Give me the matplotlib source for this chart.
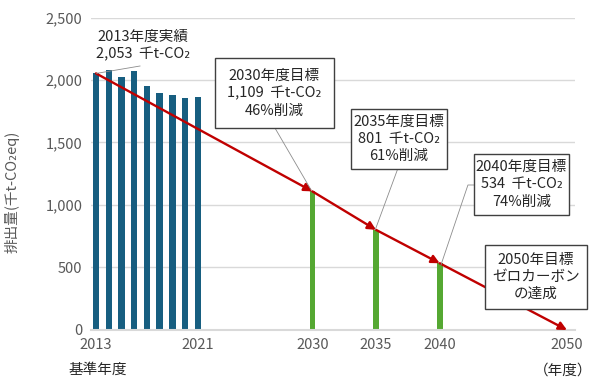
import matplotlib
matplotlib.use("Agg")
import matplotlib.pyplot as plt
from matplotlib.patches import Rectangle

plt.rcParams['font.family'] = ['Noto Sans CJK JP', 'DejaVu Sans']

# ---- data ----
actual_years = [2013, 2014, 2015, 2016, 2017, 2018, 2019, 2020, 2021]
actual_values = [2053, 2084, 2026, 2073, 1953, 1900, 1879, 1858, 1863]
target_years = [2030, 2035, 2040]
target_values = [1109, 801, 534]
path_years = [2013, 2030, 2035, 2040, 2050]
path_values = [2053, 1109, 801, 534, 0]
xtick_years = [2013, 2021, 2030, 2035, 2040, 2050]
ytick_values = [0, 500, 1000, 1500, 2000, 2500]

BLUE = '#175E80'
GREEN = '#55A832'
RED = '#C00000'
GRID = '#D9D9D9'
TXT = '#595959'
DARK = '#262626'

fig = plt.figure(figsize=(5.94, 3.89), dpi=100)
ax = fig.add_axes([0.153, 0.1517, 0.815, 0.8033])

ax.bar(actual_years, actual_values, width=0.5, color=BLUE, zorder=2)
ax.bar(target_years, target_values, width=0.45, color=GREEN, zorder=2)

for i in range(len(path_years) - 1):
    ax.annotate('', xy=(path_years[i + 1], path_values[i + 1]),
                xytext=(path_years[i], path_values[i]),
                arrowprops=dict(arrowstyle='-|>', color=RED, lw=1.7,
                                mutation_scale=12, shrinkA=0, shrinkB=0),
                zorder=3, annotation_clip=False)

ax.set_xlim(2012.6, 2050.63)
ax.set_ylim(0, 2500)
ax.set_xticks(xtick_years)
ax.set_xticklabels([str(y) for y in xtick_years])
ax.set_yticks(ytick_values)
ax.set_yticklabels([f'{v:,}' for v in ytick_values])
ax.tick_params(length=0, labelsize=10.5, colors=TXT, pad=6)
ax.grid(axis='y', color=GRID, lw=1, zorder=0)
for s in ['top', 'right', 'left']:
    ax.spines[s].set_visible(False)
ax.spines['bottom'].set_color(GRID)
ax.spines['bottom'].set_linewidth(1.5)

# ---- annotations ----
LEAD = dict(color='#8C8C8C', lw=0.6, zorder=4, clip_on=False)
FS = 10.5
LS = 1.3

# 2013
ax.text(2016.7, 2276, '2013年度実績\n2,053  千t-CO₂', ha='center', va='center',
        fontsize=FS, color=DARK, linespacing=LS)
ax.plot([2013.05, 2016.46], [2053, 2112], **LEAD)

boxes = [
    # (cx, cy, w, h, text)
    (2027.02, 1896, 9.35, 560, '2030年度目標\n1,109  千t-CO₂\n46%削減'),
    (2036.80, 1528, 7.54, 480, '2035年度目標\n801  千t-CO₂\n61%削減'),
    (2046.43, 1164, 7.46, 488, '2040年度目標\n534  千t-CO₂\n74%削減'),
    (2047.56, 424, 8.01, 512, '2050年目標\nゼロカーボン\nの達成'),
]
for cx, cy, w, h, t in boxes:
    ax.add_patch(Rectangle((cx - w / 2, cy - h / 2), w, h, facecolor='white',
                           edgecolor='#404040', lw=1.0, zorder=5, clip_on=False))
    ax.text(cx, cy, t, ha='center', va='center', fontsize=FS, color=DARK,
            linespacing=LS, zorder=6, clip_on=False)

ax.plot([2027.06, 2029.9], [1616, 1120], **LEAD)
ax.plot([2036.7, 2034.95], [1288, 805], **LEAD)
ax.plot([2042.69, 2042.22, 2040.1], [1160, 1160, 520], **LEAD)

fig.text(12 / 594, 1 - 192 / 389, '排出量(千t-CO₂eq)', rotation=90, ha='center',
         va='center', fontsize=10.5, color=TXT)
fig.text(98 / 594, 1 - 370 / 389, '基準年度', ha='center', va='center',
         fontsize=10.5, color=DARK)
fig.text(563 / 594, 1 - 371 / 389, '（年度）', ha='center', va='center',
         fontsize=10.5, color=DARK)

fig.savefig('out.png', dpi=100)
